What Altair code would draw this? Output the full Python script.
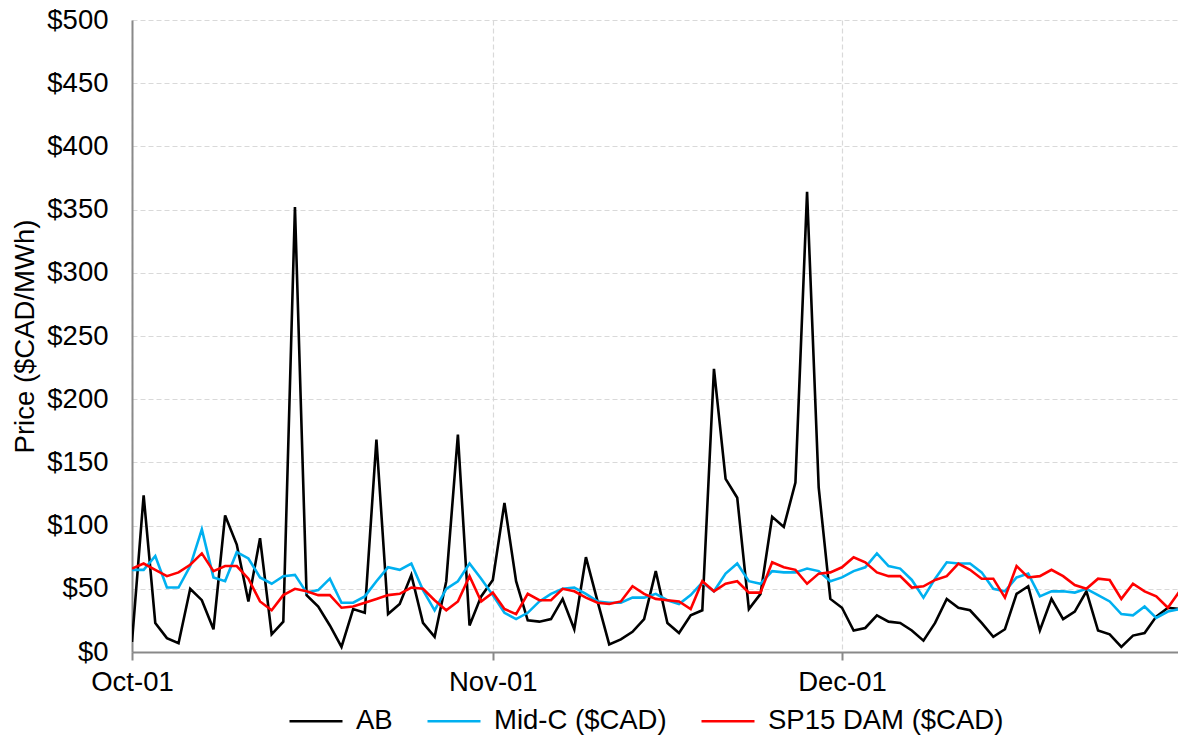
import altair as alt
import pandas as pd

# Daily prices, Oct-01 .. Dec-31 (92 days)
start_date = "2023-10-01"
series_names = ["AB", "Mid-C ($CAD)", "SP15 DAM ($CAD)"]
series_colors = ["#000000", "#00B0F0", "#FF0000"]

ab = [8, 124, 23, 11, 7, 50, 41, 18, 108, 85, 40, 90, 14, 24, 352, 45, 36, 21, 4, 34,
      31, 168, 30, 38, 61, 23, 12, 56, 172, 21, 44, 57, 118, 56, 25, 24, 26, 42, 18, 75,
      40, 6, 10, 16, 26, 64, 23, 15, 29, 33, 224, 137, 122, 34, 46, 107, 99, 134, 364, 130,
      42, 35, 17, 19, 29, 24, 23, 17, 9, 23, 42, 35, 33, 23, 12, 18, 46, 52, 17, 42,
      26, 32, 48, 17, 14, 4, 13, 15, 28, 35, 34, 40]

midc = [65, 65, 76, 51, 51, 68, 97, 59, 56, 79, 74, 59, 54, 60, 61, 47, 49, 58, 39, 39,
        44, 56, 67, 65, 70, 49, 33, 50, 56, 70, 58, 45, 31, 26, 31, 40, 46, 50, 51, 46,
        40, 39, 39, 43, 43, 46, 41, 38, 45, 55, 48, 62, 70, 56, 54, 64, 63, 63, 66, 64,
        56, 59, 64, 67, 78, 68, 66, 57, 43, 58, 71, 70, 70, 63, 50, 48, 59, 62, 44, 48,
        48, 47, 50, 45, 40, 30, 29, 36, 27, 32, 34, 46]

sp15 = [66, 70, 65, 60, 63, 69, 78, 64, 68, 68, 58, 40, 33, 45, 50, 48, 45, 45, 35, 36,
        39, 42, 45, 46, 51, 50, 41, 33, 40, 60, 40, 47, 34, 30, 46, 41, 41, 50, 48, 43,
        39, 38, 40, 52, 46, 42, 41, 40, 34, 56, 48, 54, 56, 47, 47, 71, 67, 65, 54, 62,
        63, 67, 75, 71, 63, 60, 60, 51, 52, 57, 60, 70, 65, 58, 58, 43, 68, 59, 60, 65,
        60, 53, 50, 58, 57, 42, 54, 48, 44, 35, 48, 62]

dates = pd.date_range(start_date, periods=len(ab), freq="D").strftime("%Y-%m-%d")
frames = []
for name, vals in zip(series_names, [ab, midc, sp15]):
    frames.append(pd.DataFrame({"date": dates, "price": vals, "series": name}))
df = pd.concat(frames, ignore_index=True)

FONT = "Liberation Sans"
FS = 27.5

x_enc = alt.X(
    "date:T",
    scale=alt.Scale(
        type="utc",
        domain=[
            alt.DateTime(year=2023, month=10, date=1, utc=True),
            alt.DateTime(year=2023, month=12, date=29, hours=20, minutes=52, utc=True),
        ],
    ),
    axis=alt.Axis(
        title=None,
        format="%b-%d",
        values=[
            alt.DateTime(year=2023, month=10, date=1, utc=True),
            alt.DateTime(year=2023, month=11, date=1, utc=True),
            alt.DateTime(year=2023, month=12, date=1, utc=True),
        ],
        grid=True,
        gridDash=[5, 3],
        gridColor="#D9D9D9",
        gridWidth=1.2,
        domainColor="#898989",
        domainWidth=2,
        ticks=True,
        tickColor="#898989",
        tickWidth=2,
        tickSize=8,
        labelPadding=8,
        labelFontSize=FS,
        labelFont=FONT,
        labelColor="#000000",
        labelFlush=False,
        labelOverlap=False,
    ),
)

y_enc = alt.Y(
    "price:Q",
    scale=alt.Scale(domain=[0, 500], nice=False),
    axis=alt.Axis(
        title="Price ($CAD/MWh)",
        values=list(range(0, 501, 50)),
        labelExpr="'$' + datum.value",
        grid=True,
        gridDash=[5, 3],
        gridColor="#D9D9D9",
        gridWidth=1.2,
        domainColor="#898989",
        domainWidth=2,
        ticks=False,
        labelPadding=24,
        labelFontSize=FS,
        labelFont=FONT,
        labelColor="#000000",
        titleFontSize=FS,
        titleFont=FONT,
        titleFontWeight="normal",
        titleColor="#000000",
        titleAngle=270,
        titleAlign="center",
        titleBaseline="alphabetic",
        titleX=-98.5,
        titleY=316,
    ),
)

color_enc = alt.Color(
    "series:N",
    scale=alt.Scale(domain=series_names, range=series_colors),
    legend=alt.Legend(
        title=None,
        orient="none",
        direction="horizontal",
        legendX=156,
        legendY=673,
        symbolType="stroke",
        symbolSize=2809,
        symbolStrokeWidth=2.5,
        labelOffset=12,
        columnPadding=29,
        labelFontSize=FS,
        labelFont=FONT,
        labelColor="#000000",
        labelLimit=400,
    ),
)

base = alt.Chart(df)
layers = []
for name in series_names:
    layers.append(
        base.transform_filter(alt.datum.series == name)
        .mark_line(strokeWidth=2.6, clip=True)
        .encode(x=x_enc, y=y_enc, color=color_enc)
    )

chart = (
    alt.layer(*layers)
    .properties(
        width=1046,
        height=632,
        autosize=alt.AutoSizeParams(type="none"),
        padding={"left": 124, "top": 12, "right": 0, "bottom": 88},
        background="#FFFFFF",
    )
    .configure_view(strokeWidth=0)
)

chart.save("out.html", embed_options={"renderer": "svg", "actions": False})
